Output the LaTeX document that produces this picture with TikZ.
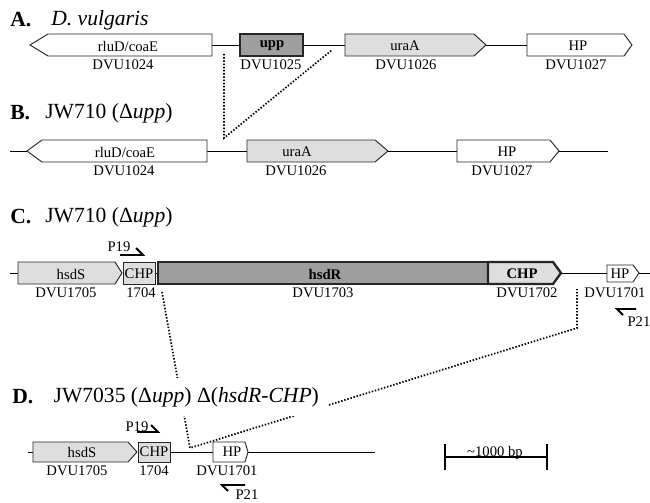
\documentclass[tikz,border=0pt]{standalone}
\usepackage{fontspec}
\setmainfont{Liberation Serif}
\usepackage{tikz}

\newcommand{\labfont}{\fontsize{11}{12}\selectfont}
\newcommand{\ttlfont}{\fontsize{16.2}{18}\selectfont}

\begin{document}
\begin{tikzpicture}[x=0.75pt,y=-0.75pt,
  gene/.style={draw=black!85,line width=0.7pt},
  light/.style={gene,fill=black!13},
  dark/.style={gene,fill=black!38,line width=1.8pt},
  lab/.style={font=\labfont,inner sep=0pt},
  ttl/.style={font=\ttlfont,anchor=west,inner sep=0pt},
  link/.style={line width=1.3pt,dash pattern=on 1.1pt off 1.3pt},
  primer/.style={line width=1.4pt},
  bb/.style={line width=0.7pt}]
  \useasboundingbox (0,0) rectangle (650,503);

  % A. wild type
  \node[ttl,font=\ttlfont\bfseries] (tA) at (10,20) {A.};
  \node[ttl] (nA) at (51,20) {\textit{D. vulgaris}};
  \draw[bb] (212,45) -- (240,45) (303,45) -- (345,45) (486,45) -- (527,45);
  \draw[gene,fill=white] (30,45) -- (48,34) -- (212,34) -- (212,56) -- (48,56) -- cycle;
  \draw[dark] (240,34) rectangle (303,56);
  \draw[light] (345,34) -- (474,34) -- (486,45) -- (474,56) -- (345,56) -- cycle;
  \draw[gene,fill=white] (527,34) -- (624,34) -- (632,45) -- (624,56) -- (527,56) -- cycle;
  \node[lab] (rluA) at (128,46) {rluD/coaE};
  \node[lab] (v24A) at (123,65) {DVU1024};
  \node[lab,font=\labfont\bfseries] (upp) at (272,46) {upp};
  \node[lab] (v25A) at (271,65) {DVU1025};
  \node[lab] (uraAA) at (405,46) {uraA};
  \node[lab] (v26A) at (406,65) {DVU1026};
  \node[lab] (hpA) at (578,46) {HP};
  \node[lab] (v27A) at (576,65) {DVU1027};

  \coordinate (cutA1) at (224,54);
  \coordinate (cutB) at (224,138);
  \coordinate (cutA2) at (332,50);
  \draw[link] (cutA1) -- (cutB) -- (cutA2);

  % B. upp deleted
  \node[ttl,font=\ttlfont\bfseries] (tB) at (10,113) {B.};
  \node[ttl] (nB) at (45,113) {JW710 (Δ\textit{upp})};
  \draw[bb] (10,151) -- (27,151) (207,151) -- (247,151) (388,151) -- (457,151) (559,151) -- (608,151);
  \draw[gene,fill=white] (27,151) -- (42,140) -- (207,140) -- (207,162) -- (42,162) -- cycle;
  \draw[light] (247,140) -- (375,140) -- (388,151) -- (375,162) -- (247,162) -- cycle;
  \draw[gene,fill=white] (457,140) -- (550,140) -- (559,151) -- (550,162) -- (457,162) -- cycle;
  \node[lab] (rluB) at (125,152) {rluD/coaE};
  \node[lab] (v24B) at (124,171) {DVU1024};
  \node[lab] (uraAB) at (297,152) {uraA};
  \node[lab] (v26B) at (296,171) {DVU1026};
  \node[lab] (hpB) at (507,152) {HP};
  \node[lab] (v27B) at (502,171) {DVU1027};

  % C. hsdR region
  \node[ttl,font=\ttlfont\bfseries] (tC) at (10,217) {C.};
  \node[ttl] (nC) at (45,217) {JW710 (Δ\textit{upp})};
  \draw[bb] (10,273) -- (18,273) (155,273) -- (158,273) (561,273) -- (607,273) (639,273) -- (650,273);
  \draw[light] (18,262) -- (115,262) -- (122,273) -- (115,284) -- (18,284) -- cycle;
  \draw[light] (123,262) rectangle (155,284);
  \draw[dark] (158,262) rectangle (488,284);
  \draw[light,line width=1.8pt] (488,262) -- (553,262) -- (561,273) -- (553,284) -- (488,284) -- cycle;
  \draw[gene,fill=white] (607,265) -- (633,265) -- (639,273) -- (633,282) -- (607,282) -- cycle;
  \node[lab] (hsdSC) at (71,274) {hsdS};
  \node[lab] (v05C) at (66,293) {DVU1705};
  \node[lab] (chp4C) at (139,274) {CHP};
  \node[lab] (v04C) at (141,293) {1704};
  \node[lab,font=\labfont\bfseries] (hsdR) at (325,274) {hsdR};
  \node[lab] (v03C) at (323,293) {DVU1703};
  \node[lab,font=\labfont\bfseries] (chp2C) at (522,274) {CHP};
  \node[lab] (v02C) at (527,293) {DVU1702};
  \node[lab] (hpC) at (620,274) {HP};
  \node[lab] (v01C) at (615,293) {DVU1701};
  \node[lab] (p19C) at (119,247) {P19};
  \draw[primer] (120,255) -- (143,255) -- (136,248);
  \node[lab] (p21C) at (639,322) {P21};
  \draw[primer] (623,315) -- (617,309) -- (636,309);

  \coordinate (cutC1) at (162,292);
  \coordinate (cutC2) at (577,289);
  \coordinate (bendC) at (577,328);
  \coordinate (cutD) at (190,448);
  \draw[link] (cutC1) -- (cutD) -- (bendC) -- (cutC2);

  % D. hsdR-CHP deleted
  \node[ttl,font=\ttlfont\bfseries] (tD) at (12,397) {D.};
  \node[ttl,fill=white,inner sep=7pt] (nD) at (44,397) {JW7035 (Δ\textit{upp}) Δ(\textit{hsdR-CHP})};
  \draw[bb] (28,452) -- (33,452) (170,452) -- (213,452) (248,452) -- (375,452);
  \draw[light] (33,442) -- (128,442) -- (137,452) -- (128,462) -- (33,462) -- cycle;
  \draw[light] (138,442) rectangle (170,462);
  \draw[gene,fill=white] (213,442) -- (245,442) -- (248,452) -- (245,462) -- (213,462) -- cycle;
  \node[lab] (hsdSD) at (82,452) {hsdS};
  \node[lab] (v05D) at (77,471) {DVU1705};
  \node[lab] (chp4D) at (154,452) {CHP};
  \node[lab] (v04D) at (154,471) {1704};
  \node[lab] (hpD) at (232,452) {HP};
  \node[lab] (v01D) at (227,471) {DVU1701};
  \node[lab] (p19D) at (137,427) {P19};
  \draw[primer] (137,432) -- (158,432) -- (151,425);
  \node[lab] (p21D) at (247,495) {P21};
  \draw[primer] (228,491) -- (222,485) -- (245,485);

  % scale bar
  \coordinate (barL) at (445,457);
  \coordinate (barR) at (547,457);
  \draw[line width=1.5pt] (barL) -- (barR);
  \draw[line width=1.5pt] ([yshift=-10]barL) -- ([yshift=10]barL);
  \draw[line width=1.5pt] ([yshift=-10]barR) -- ([yshift=10]barR);
  \node[lab,anchor=base] (bar) at (495,456) {\textasciitilde1000 bp};
\end{tikzpicture}
\end{document}
